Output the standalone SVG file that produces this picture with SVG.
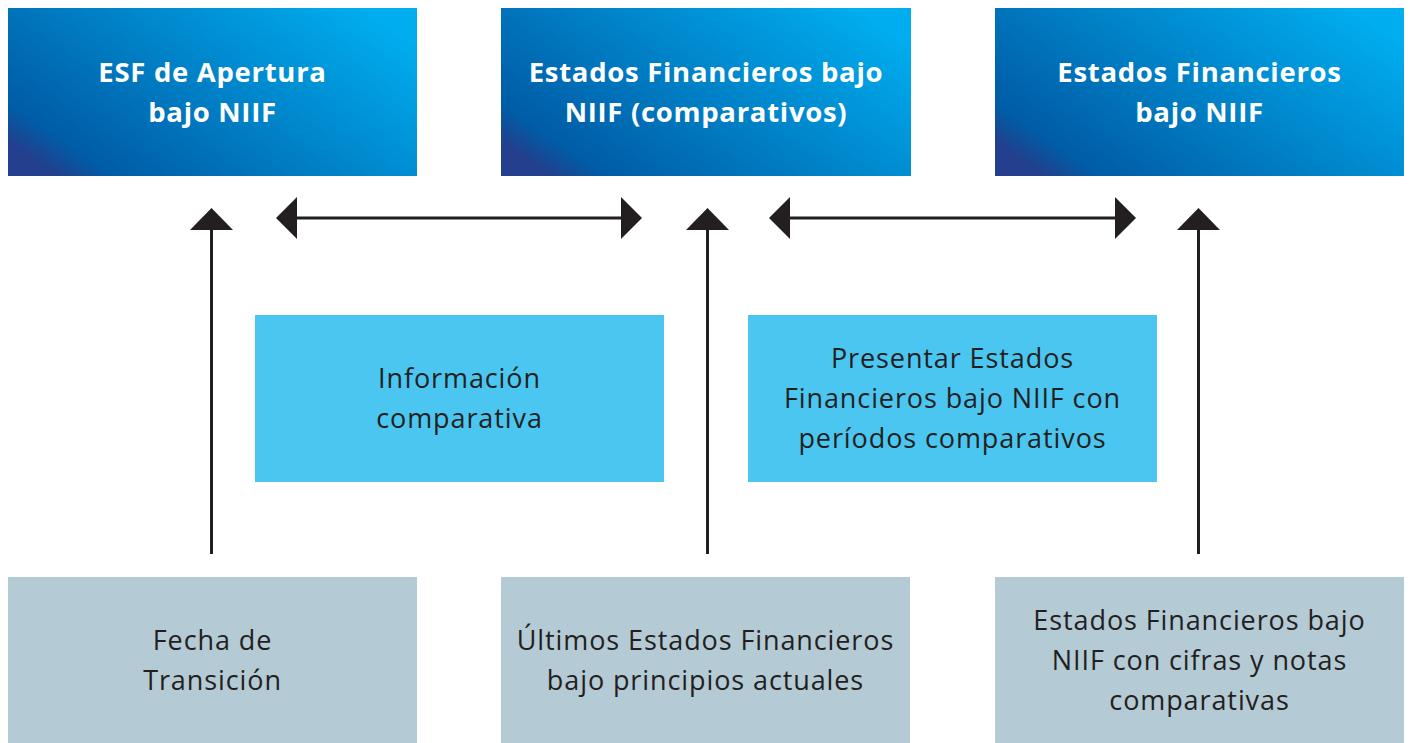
<svg xmlns="http://www.w3.org/2000/svg" width="1410" height="743" viewBox="0 0 1410 743">
<style>
.top{font-family:"Open Sans","Noto Sans",sans-serif;font-weight:700;font-size:27.5px;fill:#ffffff;text-anchor:middle;letter-spacing:0.7px}
.txt{font-family:"Open Sans","Noto Sans",sans-serif;font-size:27px;fill:#231f20;text-anchor:middle;letter-spacing:0.9px}
.mid{fill:#4ac6f0}
.bot{fill:#b4cad5}
.ln{stroke:#231f20;stroke-width:3;fill:none}
.hd{fill:#231f20}
</style>
<defs>
<linearGradient id="g" x1="0" y1="0.8" x2="1" y2="0.2">
<stop offset="0" stop-color="#233f8d"/>
<stop offset="0.1" stop-color="#005ca6"/>
<stop offset="1" stop-color="#00aeef"/>
</linearGradient>
</defs>
<rect width="1410" height="743" fill="#ffffff"/>
<g id="n1"><rect x="8" y="8" width="409" height="168" fill="url(#g)"/><text class="top" x="212.5" y="82">ESF de Apertura</text><text class="top" x="212.5" y="122">bajo NIIF</text></g>
<g id="n2"><rect x="501" y="8" width="410" height="168" fill="url(#g)"/><text class="top" x="706" y="82">Estados Financieros bajo</text><text class="top" x="706" y="122">NIIF (comparativos)</text></g>
<g id="n3"><rect x="995" y="8" width="409" height="168" fill="url(#g)"/><text class="top" x="1199.5" y="82">Estados Financieros</text><text class="top" x="1199.5" y="122">bajo NIIF</text></g>
<g id="n4"><rect class="mid" x="255" y="315" width="409" height="167"/><text class="txt" x="459.5" y="388">Información</text><text class="txt" x="459.5" y="428">comparativa</text></g>
<g id="n5"><rect class="mid" x="748" y="315" width="409" height="167"/><text class="txt" x="952.5" y="368">Presentar Estados</text><text class="txt" x="952.5" y="408">Financieros bajo NIIF con</text><text class="txt" x="952.5" y="448">períodos comparativos</text></g>
<g id="n6"><rect class="bot" x="8" y="577" width="409" height="166"/><text class="txt" x="212.5" y="650">Fecha de</text><text class="txt" x="212.5" y="690">Transición</text></g>
<g id="n7"><rect class="bot" x="501" y="577" width="409" height="166"/><text class="txt" x="705.5" y="650">Últimos Estados Financieros</text><text class="txt" x="705.5" y="690">bajo principios actuales</text></g>
<g id="n8"><rect class="bot" x="995" y="577" width="409" height="166"/><text class="txt" x="1199.5" y="630">Estados Financieros bajo</text><text class="txt" x="1199.5" y="670">NIIF con cifras y notas</text><text class="txt" x="1199.5" y="710">comparativas</text></g>
<g id="connectors">
<line class="ln" x1="211.5" y1="554" x2="211.5" y2="228"/>
<polygon class="hd" points="211.5,208 233,230 190,230"/>
<line class="ln" x1="707.5" y1="554" x2="707.5" y2="228"/>
<polygon class="hd" points="707.5,208 729,230 686,230"/>
<line class="ln" x1="1198.5" y1="554" x2="1198.5" y2="228"/>
<polygon class="hd" points="1198.5,208 1220,230 1177,230"/>
<line class="ln" x1="295" y1="218" x2="623" y2="218"/>
<polygon class="hd" points="276,218 297,197 297,239"/>
<polygon class="hd" points="642,218 621,197 621,239"/>
<line class="ln" x1="788" y1="218" x2="1117" y2="218"/>
<polygon class="hd" points="769,218 790,197 790,239"/>
<polygon class="hd" points="1136,218 1115,197 1115,239"/>
</g>
</svg>
